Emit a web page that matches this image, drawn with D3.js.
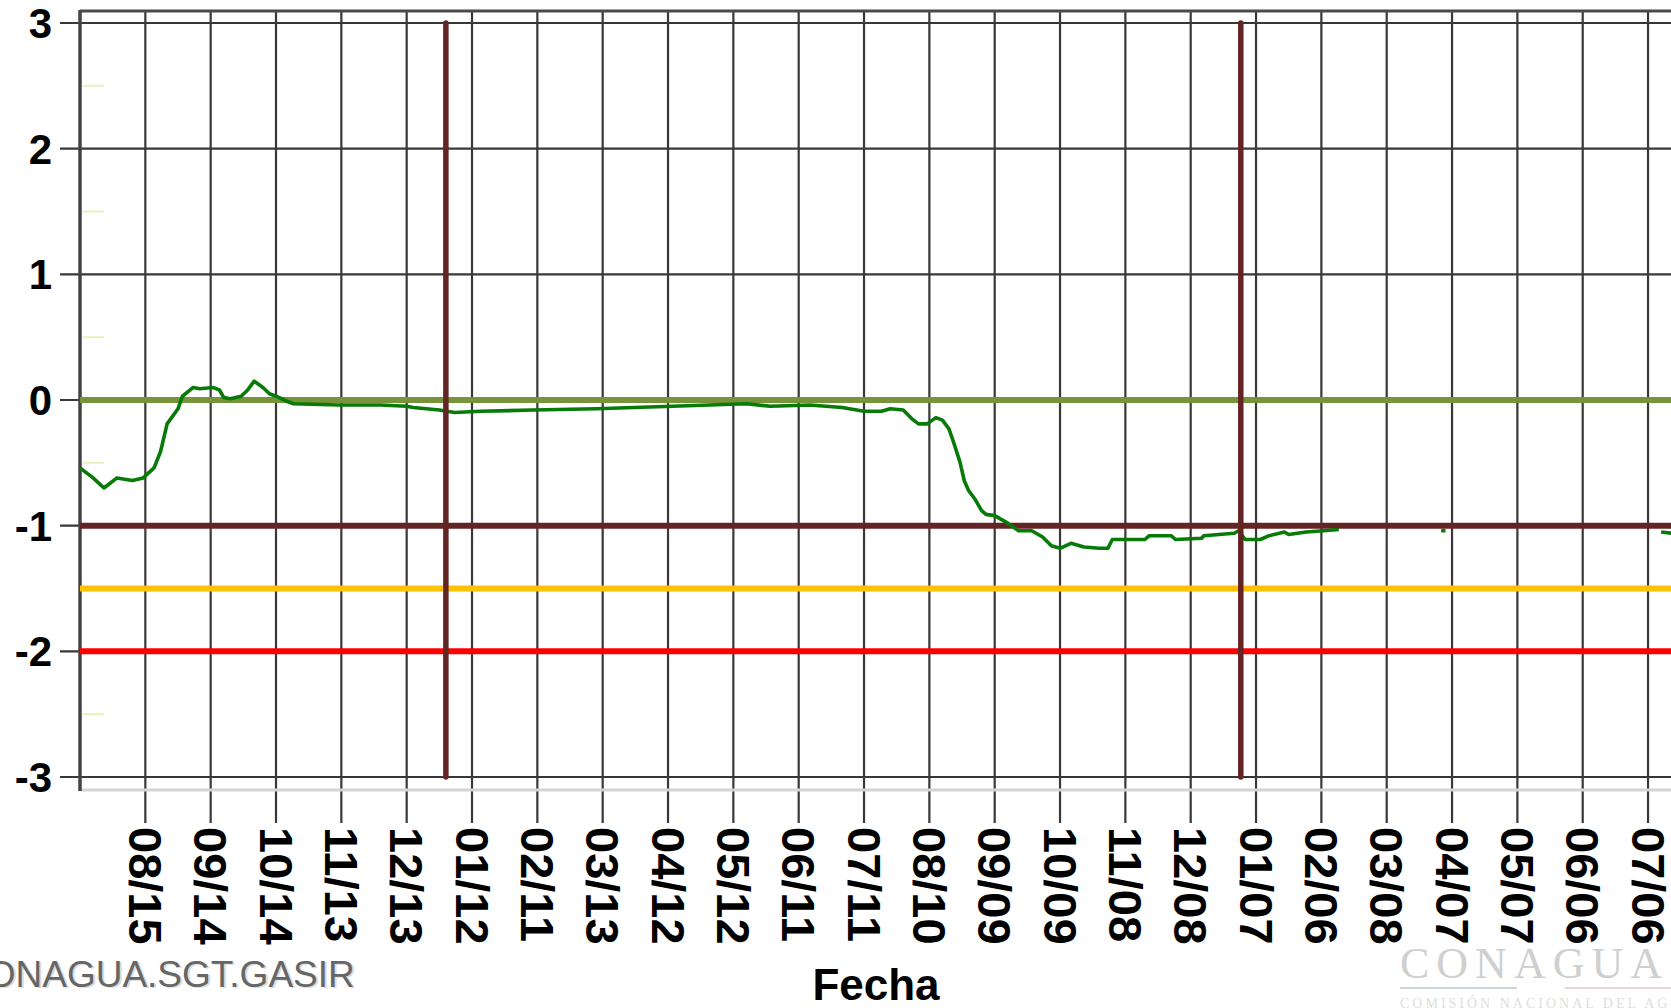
<!DOCTYPE html>
<html>
<head>
<meta charset="utf-8">
<script src="https://cdn.jsdelivr.net/npm/d3@7"></script>
<style>
  body { margin: 0; background: #fff; }
  svg { display: block; }
</style>
</head>
<body>
<div id="chart"></div>
<script>
// Serie SPI (fechas y valores), null = sin dato
const dates = [
  "2017-07-16", "2017-07-22", "2017-07-27", "2017-08-02", "2017-08-09", "2017-08-14",
  "2017-08-19", "2017-08-22", "2017-08-25", "2017-08-30", "2017-09-01", "2017-09-06",
  "2017-09-09", "2017-09-15", "2017-09-18", "2017-09-20", "2017-09-23", "2017-09-28",
  "2017-10-01", "2017-10-04", "2017-10-08", "2017-10-11", "2017-10-14", "2017-10-19",
  "2017-10-22", "2017-11-12", "2017-12-01", "2017-12-13", "2017-12-16", "2017-12-28",
  "2018-01-04", "2018-01-16", "2018-02-09", "2018-03-10", "2018-04-14", "2018-05-18",
  "2018-05-29", "2018-06-16", "2018-07-01", "2018-07-11", "2018-07-19", "2018-07-23",
  "2018-07-29", "2018-08-02", "2018-08-05", "2018-08-09", "2018-08-13", "2018-08-16",
  "2018-08-19", "2018-08-21", "2018-08-24", "2018-08-26", "2018-08-28", "2018-08-31",
  "2018-09-03", "2018-09-05", "2018-09-09", "2018-09-12", "2018-09-15", "2018-09-20",
  "2018-09-26", "2018-10-01", "2018-10-05", "2018-10-09", "2018-10-14", "2018-10-20",
  "2018-10-27", "2018-10-31", "2018-11-02", "2018-11-17", "2018-11-19", "2018-11-29",
  "2018-12-01", "2018-12-13", "2018-12-14", "2018-12-21", "2018-12-28", "2018-12-30",
  "2019-01-02", "2019-01-09", "2019-01-13", "2019-01-20", "2019-01-22", "2019-01-30",
  "2019-02-07", "2019-02-14", "2019-03-01",
  "2019-04-02", "2019-04-04", "2019-04-20",
  "2019-07-12", "2019-07-17"
];
const spi = [
  -0.54, -0.62, -0.70, -0.62, -0.64, -0.62,
  -0.54, -0.41, -0.19, -0.07, 0.03, 0.10,
  0.09, 0.10, 0.08, 0.02, 0.01, 0.03,
  0.08, 0.15, 0.10, 0.05, 0.03, -0.01,
  -0.03, -0.04, -0.04, -0.05, -0.06, -0.08,
  -0.10, -0.09, -0.08, -0.07, -0.05, -0.03,
  -0.05, -0.04, -0.06, -0.09, -0.09, -0.07,
  -0.08, -0.15, -0.19, -0.19, -0.14, -0.16,
  -0.23, -0.33, -0.49, -0.64, -0.72, -0.79,
  -0.88, -0.91, -0.92, -0.95, -0.98, -1.04,
  -1.04, -1.09, -1.16, -1.18, -1.14, -1.17,
  -1.18, -1.18, -1.11, -1.11, -1.08, -1.08,
  -1.11, -1.10, -1.08, -1.07, -1.06, -1.04,
  -1.11, -1.11, -1.08, -1.05, -1.07, -1.05,
  -1.04, -1.03, null,
  -1.04, -1.04, null,
  -1.05, -1.06
];

// Etiquetas del eje X (cada 30 dias)
const tickDates = [
  "2017-08-15", "2017-09-14", "2017-10-14", "2017-11-13", "2017-12-13", "2018-01-12",
  "2018-02-11", "2018-03-13", "2018-04-12", "2018-05-12", "2018-06-11", "2018-07-11",
  "2018-08-10", "2018-09-09", "2018-10-09", "2018-11-08", "2018-12-08", "2019-01-07",
  "2019-02-06", "2019-03-08", "2019-04-07", "2019-05-07", "2019-06-06", "2019-07-06"
];
const yTicks = [-3, -2, -1, 0, 1, 2, 3];
const minorTicks = [-2.5, -0.5, 0.5, 1.5, 2.5];
const refLevels = [0, -1, -1.5, -2];
const yearMarks = ["2017-12-31", "2018-12-31"];

const parse = d3.timeParse("%Y-%m-%d");
const fmt = d3.timeFormat("%m/%d");

const W = 1671, H = 1008;
const svg = d3.select("#chart").append("svg")
    .attr("width", W)
    .attr("height", H);

const xScale = d3.scaleTime()
    .domain([parse("2017-07-16"), parse("2019-07-17")])
    .range([80, 1672]);

const yScale = d3.scaleLinear()
    .domain([-3, 3])
    .range([777, 23]);

const data = dates.map((d, i) => ({ date: parse(d), v: spi[i] }));

// Rejilla vertical (con marcas bajo el eje)
svg.selectAll(".vgrid")
    .data(tickDates)
    .enter()
    .append("line")
    .attr("class", "vgrid")
    .attr("x1", d => xScale(parse(d)))
    .attr("x2", d => xScale(parse(d)))
    .attr("y1", 10)
    .attr("y2", 823)
    .attr("stroke", "#383838")
    .attr("stroke-width", 2.2);

// Rejilla horizontal
svg.selectAll(".hgrid")
    .data(yTicks)
    .enter()
    .append("line")
    .attr("class", "hgrid")
    .attr("x1", 60)
    .attr("x2", W)
    .attr("y1", d => yScale(d))
    .attr("y2", d => yScale(d))
    .attr("stroke", "#383838")
    .attr("stroke-width", 2.2);

// Marcas menores (amarillo palido)
svg.selectAll(".minor")
    .data(minorTicks)
    .enter()
    .append("line")
    .attr("x1", 83)
    .attr("x2", 104)
    .attr("y1", d => yScale(d))
    .attr("y2", d => yScale(d))
    .attr("stroke", "#eeeebb")
    .attr("stroke-width", 2);

// Bordes
svg.append("line")
    .attr("x1", 80).attr("x2", W)
    .attr("y1", 11).attr("y2", 11)
    .attr("stroke", "#4a4a4a")
    .attr("stroke-width", 3);

svg.append("line")
    .attr("x1", 80).attr("x2", W)
    .attr("y1", 790).attr("y2", 790)
    .attr("stroke", "#d4d4d4")
    .attr("stroke-width", 3);

svg.append("line")
    .attr("x1", 80).attr("x2", 80)
    .attr("y1", 10).attr("y2", 791)
    .attr("stroke", "#444")
    .attr("stroke-width", 3.5);

// Lineas de referencia
const refColors = { "0": "#77933C", "-1": "#632523", "-1.5": "#FFC000", "-2": "#FF0000" };
svg.selectAll(".ref")
    .data(refLevels)
    .enter()
    .append("line")
    .attr("class", "ref")
    .attr("x1", 80)
    .attr("x2", W)
    .attr("y1", d => yScale(d))
    .attr("y2", d => yScale(d))
    .attr("stroke", d => refColors[String(d)])
    .attr("stroke-width", 6);

// Serie SPI
const line = d3.line()
    .defined(d => d.v !== null)
    .x(d => xScale(d.date))
    .y(d => yScale(d.v));

svg.append("path")
    .datum(data)
    .attr("fill", "none")
    .attr("stroke", "#077a07")
    .attr("stroke-width", 3.6)
    .attr("stroke-linejoin", "round")
    .attr("d", line);

// Lineas verticales de fin de anio
svg.selectAll(".year")
    .data(yearMarks)
    .enter()
    .append("line")
    .attr("x1", d => xScale(parse(d)))
    .attr("x2", d => xScale(parse(d)))
    .attr("y1", yScale(3))
    .attr("y2", yScale(-3))
    .attr("stroke", "#632523")
    .attr("stroke-width", 5.5)
    .attr("stroke-linecap", "round");

// Etiquetas eje Y
svg.selectAll(".ylab")
    .data(yTicks)
    .enter()
    .append("text")
    .attr("x", 52)
    .attr("y", d => yScale(d))
    .attr("dy", "0.36em")
    .attr("text-anchor", "end")
    .style("font-family", "Liberation Sans, Arial, sans-serif")
    .style("font-weight", "bold")
    .style("font-size", "42px")
    .text(d => d);

// Etiquetas eje X (giradas)
svg.selectAll(".xlab")
    .data(tickDates)
    .enter()
    .append("text")
    .attr("transform", d => "translate(" + xScale(parse(d)) + ",827) rotate(90)")
    .attr("dy", "0.35em")
    .attr("text-anchor", "start")
    .style("font-family", "Liberation Sans, Arial, sans-serif")
    .style("font-weight", "bold")
    .style("font-size", "47px")
    .text(d => fmt(parse(d)));

// Titulo eje X
svg.append("text")
    .attr("x", 876)
    .attr("y", 1000)
    .attr("text-anchor", "middle")
    .style("font-family", "Liberation Sans, Arial, sans-serif")
    .style("font-weight", "bold")
    .style("font-size", "44px")
    .text("Fecha");

// Firma
svg.append("text")
    .attr("x", -38)
    .attr("y", 988)
    .attr("fill", "#dcdcdc")
    .style("font-family", "Liberation Sans, Arial, sans-serif")
    .style("font-size", "37px")
    .text("CONAGUA.SGT.GASIR");
svg.append("text")
    .attr("x", -40)
    .attr("y", 987)
    .attr("fill", "#666")
    .style("font-family", "Liberation Sans, Arial, sans-serif")
    .style("font-size", "37px")
    .text("CONAGUA.SGT.GASIR");

// Logotipo
svg.append("text")
    .attr("x", 1400)
    .attr("y", 978)
    .attr("fill", "#cfcfcf")
    .style("font-family", "Liberation Serif, Times New Roman, serif")
    .style("font-size", "44px")
    .style("letter-spacing", "7px")
    .text("CONAGUA");
svg.append("line")
    .attr("x1", 1400).attr("x2", 1517)
    .attr("y1", 988).attr("y2", 988)
    .attr("stroke", "#ccd6da")
    .attr("stroke-width", 2);
svg.append("line")
    .attr("x1", 1565).attr("x2", W)
    .attr("y1", 988).attr("y2", 988)
    .attr("stroke", "#ecd0d4")
    .attr("stroke-width", 2);
svg.append("text")
    .attr("x", 1400)
    .attr("y", 1008)
    .attr("fill", "#dedede")
    .style("font-family", "Liberation Serif, Times New Roman, serif")
    .style("font-size", "14px")
    .style("letter-spacing", "3px")
    .text("COMISIÓN NACIONAL DEL AGUA");
</script>
</body>
</html>
